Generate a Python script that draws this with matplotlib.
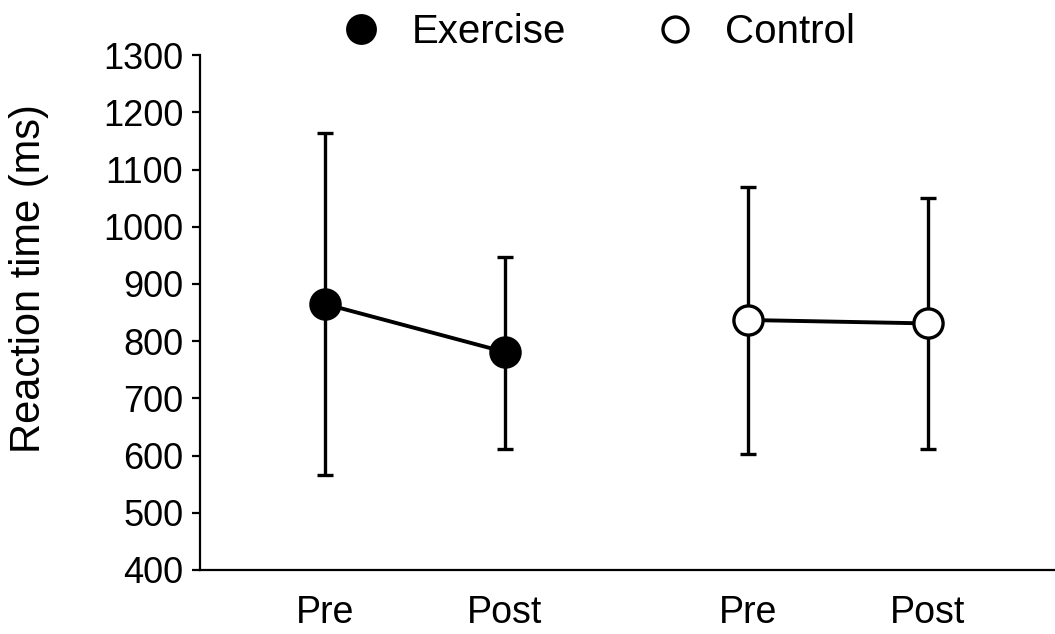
import matplotlib.pyplot as plt
from matplotlib.lines import Line2D

plt.rcParams['font.family'] = ['Liberation Sans', 'DejaVu Sans']

# values (ms)
conditions = ["Pre", "Post"]
exercise_mean = [865, 781]
exercise_upper = [1164, 947]
exercise_lower = [566, 612]
control_mean = [837, 831]
control_upper = [1070, 1051]
control_lower = [603, 612]

exercise_x = [1, 2]
control_x = [3.35, 4.35]

fig = plt.figure(figsize=(10.55, 6.34), dpi=100)
ax = fig.add_axes([0.1896, 0.101, 0.8104, 0.812])

def draw_group(x, mean, upper, lower, face):
    err = [[m - lo for m, lo in zip(mean, lower)], [up - m for m, up in zip(mean, upper)]]
    ax.errorbar(x, mean, yerr=err, fmt='none', ecolor='black', elinewidth=2.4,
                capsize=5.5, capthick=2.4, zorder=2)
    ax.plot(x, mean, color='black', linewidth=2.8, marker='o', markersize=21,
            markerfacecolor=face, markeredgecolor='black', markeredgewidth=2.4, zorder=3)

draw_group(exercise_x, exercise_mean, exercise_upper, exercise_lower, 'black')
draw_group(control_x, control_mean, control_upper, control_lower, 'white')

ax.set_xlim(0.306, 5.056)
ax.set_ylim(400, 1300)
ax.set_yticks(range(400, 1301, 100))
ax.set_xticks(exercise_x + control_x)
ax.set_xticklabels(conditions + conditions)
ax.set_ylabel("Reaction time (ms)", fontsize=30)
ax.yaxis.set_label_coords(-0.177, 0.566)

for side in ['top', 'right']:
    ax.spines[side].set_visible(False)
for side in ['left', 'bottom']:
    ax.spines[side].set_linewidth(1.6)
ax.tick_params(axis='y', labelsize=26, length=6, width=1.6, pad=6)
ax.tick_params(axis='x', labelsize=27, length=0, pad=18)

handles = [
    Line2D([], [], linestyle='none', marker='o', markersize=20, markerfacecolor='black',
           markeredgecolor='black', markeredgewidth=2.2),
    Line2D([], [], linestyle='none', marker='o', markersize=18, markerfacecolor='white',
           markeredgecolor='black', markeredgewidth=2.4),
]
fig.legend(handles, ["Exercise", "Control"], loc='center', bbox_to_anchor=(0.567, 0.95),
           ncol=2, frameon=False, fontsize=29, handlelength=1.0, handletextpad=0.75,
           columnspacing=2.2, borderpad=0)

fig.savefig("out.png", dpi=100)
